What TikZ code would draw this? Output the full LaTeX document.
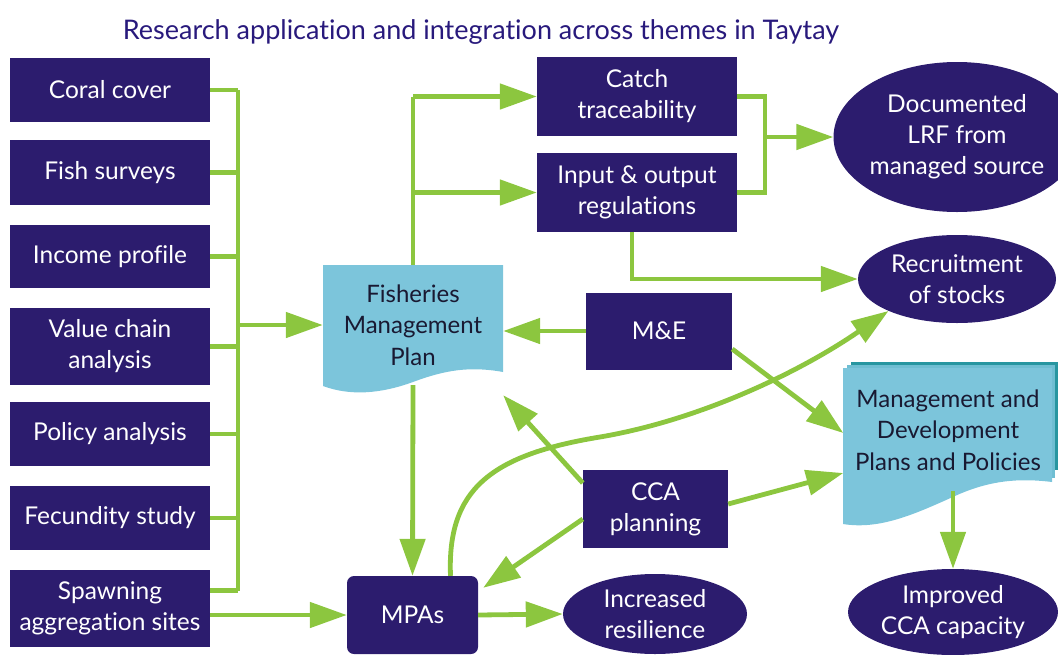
\documentclass[tikz,border=0pt]{standalone}
\usepackage{fontspec}
\setmainfont{Lato}[Ligatures=NoCommon]
\usetikzlibrary{shapes.geometric,arrows.meta}
\definecolor{navy}{RGB}{44,28,110}
\definecolor{lgreen}{RGB}{140,198,63}
\definecolor{lblue}{RGB}{124,197,219}
\definecolor{teal}{RGB}{40,150,160}
\definecolor{doctext}{RGB}{25,25,50}
\tikzset{
  box/.style={fill=navy, text=white, inner sep=0pt, align=center, font=\fontsize{24.5}{31}\selectfont},
  oval/.style={ellipse, fill=navy, text=white, inner sep=0pt, align=center, font=\fontsize{24.5}{31}\selectfont},
  doc/.style={inner sep=0pt, align=center, text=doctext, font=\fontsize{24}{31.5}\selectfont},
  gline/.style={line width=4.8pt, draw=lgreen},
  garr/.style={line width=4.8pt, draw=lgreen, -{Triangle[length=37pt,width=25pt]}},
}
\begin{document}
\begin{tikzpicture}[x=1pt,y=-1pt]
\useasboundingbox (0,0) rectangle (1058,654);
% title
\node[text=navy!90!blue, font=\fontsize{27}{32}\selectfont] (title) at (481,32) {Research application and integration across themes in Taytay};
% left column
\node[box, minimum width=200pt, minimum height=64pt] (coral) at (110,90) {Coral cover};
\node[box, minimum width=200pt, minimum height=65pt] (fish) at (110,172.5) {Fish surveys};
\node[box, minimum width=200pt, minimum height=63pt] (income) at (110,256.5) {Income profile};
\node[box, minimum width=200pt, minimum height=77pt] (value) at (110,346.5) {Value chain\\analysis};
\node[box, minimum width=200pt, minimum height=64pt] (policy) at (110,434) {Policy analysis};
\node[box, minimum width=200pt, minimum height=64pt] (fecund) at (110,518) {Fecundity study};
\node[box, minimum width=200pt, minimum height=77pt] (spawn) at (110,608.5) {Spawning\\aggregation sites};
% FMP document shape
\fill[lblue] (323,265) -- (503,265) -- (503,372)
  .. controls (470,366) and (445,370) .. (413,382)
  .. controls (380,394) and (350,396) .. (323,386) -- cycle;
\node[doc, minimum width=180pt, minimum height=120pt] (fmp) at (413,325) {Fisheries\\Management\\Plan};
% middle boxes
\node[box, minimum width=200pt, minimum height=79pt] (catch) at (637,96.5) {Catch\\traceability};
\node[box, minimum width=200pt, minimum height=79pt] (inout) at (637,192.5) {Input \& output\\regulations};
\node[box, minimum width=146pt, minimum height=77pt] (me) at (659,331) {M\&E};
\node[box, minimum width=145pt, minimum height=78pt] (cca) at (655.5,509) {CCA\\planning};
\node[box, rounded corners=7pt, minimum width=131pt, minimum height=78pt] (mpas) at (412.5,615) {MPAs};
% right ovals
\node[oval, minimum width=198pt, minimum height=150pt] (docu) at (957,137) {Documented\\LRF from\\managed source};
\node[oval, minimum width=198pt, minimum height=88pt] (recruit) at (957,279) {Recruitment\\of stocks};
\node[oval, minimum width=184pt, minimum height=80pt] (resil) at (655,614) {Increased\\resilience};
\node[oval, minimum width=210pt, minimum height=86pt] (improved) at (953,612) {Improved\\CCA capacity};
% MDP stacked document
\fill[teal] (851,362) -- (1058,362) -- (1058,470) -- (851,470) -- cycle;
\fill[lblue!85!teal] (847,365) -- (1055,365) -- (1055,478) -- (847,478) -- cycle;
\fill[lblue] (843,368) -- (1052,368) -- (1052,482)
  .. controls (1020,478) and (990,480) .. (955,496)
  .. controls (915,514) and (880,530) .. (843,524) -- cycle;
\node[doc, minimum width=209pt, minimum height=122pt] (mdp) at (948,430) {Management and\\Development\\Plans and Policies};
% bus on the left
\coordinate (bus) at (238,0);
\foreach \n in {coral,fish,income,value,policy,fecund}
  \draw[gline] (\n.east) -- (\n.east -| bus);
\draw[gline] ([yshift=18pt]spawn.east) -- ([yshift=18pt]spawn.east -| bus);
\draw[gline] (coral.east -| bus) -- ([yshift=18pt]spawn.east -| bus);
\draw[garr] (bus |- fmp.west) -- (fmp.west);
\draw[garr] (spawn.east |- mpas.west) -- (mpas.west);
% FMP to the top boxes
\draw[gline] (fmp.north) -- (fmp.north |- catch.west);
\draw[garr] (fmp.north |- catch.west) -- (catch.west);
\draw[garr] (fmp.north |- inout.west) -- (inout.west);
% bracket to documented LRF
\coordinate (br) at (765,0);
\draw[gline] (catch.east) -- (br |- catch.east) -- (br |- inout.east) -- (inout.east);
\draw[garr] (br |- docu.west) -- (docu.west);
% input/output to recruitment
\draw[garr] ([xshift=-5pt]inout.south) |- (recruit.west);
% M&E
\draw[garr] (me.west) -- (fmp.east |- me.west);
\draw[garr] ([yshift=-18pt]me.east) -- ([yshift=-3pt]mdp.west);
% CCA planning
\draw[garr] ([yshift=26pt]cca.west) -- ([yshift=-10pt]fmp.south east);
\draw[garr] ([yshift=-10pt]cca.west) -- ([xshift=5pt,yshift=-12pt]mpas.north east);
\draw[garr] ([yshift=5pt]cca.east) -- ([yshift=-43pt]mdp.west);
% FMP to MPAs
\draw[garr] (fmp.south) -- (mpas.north);
% MPAs to resilience
\draw[garr] (mpas.east) -- (resil.west);
% MPAs curve to recruitment
\draw[garr] ([xshift=38pt]mpas.north) .. controls (447,490) and (490,455) .. (600,437)
  .. controls (700,420) and (800,372) .. (recruit.205);
% MDP to improved
\draw[garr] (mdp.south -| improved.north) -- (improved.north);
\end{tikzpicture}
\end{document}
